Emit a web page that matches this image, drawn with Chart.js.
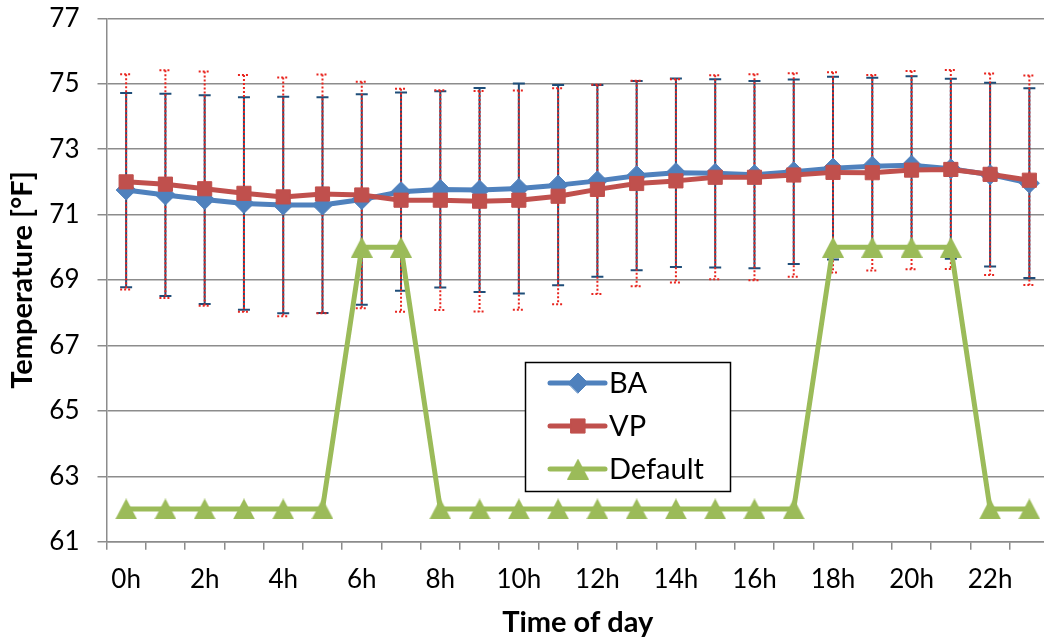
<!DOCTYPE html>
<html><head><meta charset="utf-8">
<script src="https://cdn.jsdelivr.net/npm/chart.js@4.4.0/dist/chart.umd.min.js"></script>
<style>
html,body{margin:0;padding:0;background:#fff;overflow:hidden;width:1044px;height:643px}
#wrap{position:absolute;left:0;top:0;width:1060px;height:643px}
canvas{display:block}
</style></head><body>
<div id="wrap"><canvas id="c" width="1060" height="643"></canvas></div>
<script>
// ---- data ----
const hours = ['0h','1h','2h','3h','4h','5h','6h','7h','8h','9h','10h','11h','12h','13h','14h','15h','16h','17h','18h','19h','20h','21h','22h','23h'];
const seriesNames = ['BA','VP','Default'];
const baMean = [71.75,71.60,71.46,71.34,71.29,71.29,71.46,71.70,71.77,71.75,71.80,71.90,72.03,72.19,72.28,72.26,72.22,72.31,72.42,72.48,72.51,72.40,72.22,71.96];
const baSD   = [2.97,3.09,3.19,3.25,3.31,3.30,3.22,3.03,3.00,3.12,3.21,3.06,2.93,2.89,2.88,2.88,2.86,2.82,2.79,2.70,2.72,2.75,2.81,2.90];
const vpMean = [72.00,71.93,71.79,71.65,71.54,71.63,71.60,71.44,71.44,71.41,71.44,71.56,71.77,71.95,72.03,72.14,72.14,72.21,72.29,72.28,72.36,72.38,72.23,72.05];
const vpSD   = [3.29,3.48,3.58,3.62,3.65,3.65,3.46,3.41,3.36,3.37,3.35,3.30,3.20,3.14,3.11,3.12,3.15,3.11,3.06,2.99,3.03,3.04,3.08,3.20];
const defaultSetpoint = [62,62,62,62,62,62,70,70,62,62,62,62,62,62,62,62,62,62,70,70,70,70,62,62];
const yMin = 61, yMax = 77, yStep = 2;

// ---- styles ----
const BLUE = '#4F81BD', RED = '#C0504D', GREEN = '#9BBB59';
const FONT = 'Lato';

function makeTriangle(color){
  const c = document.createElement('canvas'); c.width = 22; c.height = 21;
  const g = c.getContext('2d'); g.fillStyle = color;
  g.beginPath(); g.moveTo(11,0); g.lineTo(22,21); g.lineTo(0,21); g.closePath(); g.fill();
  return c;
}
const tri = makeTriangle(GREEN);

const errorBars = {
  id: 'errorBars',
  beforeDatasetsDraw(chart){
    const {ctx, scales:{x, y}} = chart;
    const draw = (means, sds, color, dash) => {
      ctx.save();
      ctx.strokeStyle = color; ctx.lineWidth = 2; ctx.setLineDash(dash);
      means.forEach((m, i) => {
        const px = x.getPixelForValue(i);
        const top = y.getPixelForValue(m + sds[i]);
        const bot = y.getPixelForValue(m - sds[i]);
        ctx.beginPath();
        ctx.moveTo(px, top); ctx.lineTo(px, bot);
        ctx.moveTo(px - 6, top); ctx.lineTo(px + 6, top);
        ctx.moveTo(px - 6, bot); ctx.lineTo(px + 6, bot);
        ctx.stroke();
      });
      ctx.restore();
    };
    draw(baMean, baSD, '#1F4E79', []);
    draw(vpMean, vpSD, '#E8251F', [2,2]);
  }
};

const legendBox = {
  id: 'legendBox',
  afterDatasetsDraw(chart){
    const ctx = chart.ctx;
    ctx.save();
    ctx.fillStyle = '#fff'; ctx.fillRect(525, 362, 206, 130);
    ctx.strokeStyle = '#000'; ctx.lineWidth = 1.5; ctx.strokeRect(525.5, 362.5, 205, 129);
    const rowsY = [383, 426, 469];
    const dsByName = {};
    chart.data.datasets.forEach(d => dsByName[d.label] = d);
    seriesNames.forEach((name, k) => {
      const d = dsByName[name];
      const yy = rowsY[k];
      ctx.strokeStyle = d.borderColor; ctx.lineWidth = 5; ctx.lineCap = 'round'; ctx.setLineDash([]);
      ctx.beginPath(); ctx.moveTo(550, yy); ctx.lineTo(605, yy); ctx.stroke();
      ctx.fillStyle = d.backgroundColor; ctx.strokeStyle = d.borderColor; ctx.lineWidth = 1;
      Chart.helpers.drawPoint(ctx, {pointStyle: d.pointStyle, radius: d.pointRadius, rotation: 0, borderWidth: 1}, 578, yy);
      ctx.fillStyle = '#000'; ctx.font = '29px ' + FONT; ctx.textBaseline = 'middle'; ctx.textAlign = 'left';
      ctx.fillText(name, 609, yy + 1);
    });
    ctx.restore();
  }
};

function draw(){
  Chart.defaults.font.family = FONT;
  Chart.defaults.color = '#000';
  new Chart(document.getElementById('c'), {
    type: 'line',
    data: {
      labels: hours,
      datasets: [
        {label: seriesNames[0], data: baMean, borderColor: BLUE, backgroundColor: BLUE, borderWidth: 5,
         pointStyle: 'rectRot', pointRadius: 10, pointBorderWidth: 1, order: 3, borderJoinStyle: 'round'},
        {label: seriesNames[1], data: vpMean, borderColor: RED, backgroundColor: RED, borderWidth: 5,
         pointStyle: 'rect', pointRadius: 10, pointBorderWidth: 1, order: 2, borderJoinStyle: 'round'},
        {label: seriesNames[2], data: defaultSetpoint, borderColor: GREEN, backgroundColor: GREEN, borderWidth: 5,
         pointStyle: tri, pointRadius: 11, pointBorderWidth: 0, order: 1, borderJoinStyle: 'round'}
      ]
    },
    options: {
      responsive: false, animation: false,
      layout: {padding: {top: 18.3, right: 8, left: 0, bottom: 0}},
      plugins: {legend: {display: false}, tooltip: {enabled: false}},
      scales: {
        x: {
          type: 'category', offset: true,
          grid: {offset: true, drawOnChartArea: false, drawTicks: true, tickLength: 8, color: '#8c8c8c', lineWidth: 1.5},
          border: {display: true, color: '#8c8c8c', width: 1.5},
          ticks: {autoSkip: false, maxRotation: 0, padding: 14, font: {size: 26},
            callback: function(v, i){ return i % 2 === 0 ? this.getLabelForValue(v) : ''; }},
          title: {display: true, text: 'Time of day', font: {size: 29, weight: 'bold'}, padding: {top: 0, bottom: 3}},
          afterFit: s => { s.height = 101.3; s.paddingLeft = 0; s.paddingRight = 0; }
        },
        y: {
          min: yMin, max: yMax,
          grid: {color: '#8c8c8c', lineWidth: 1.5, tickLength: 9},
          border: {display: true, color: '#8c8c8c', width: 1.5},
          ticks: {stepSize: yStep, padding: 18, font: {size: 26}},
          title: {display: true, text: 'Temperature [°F]', font: {size: 29, weight: 'bold'}, padding: {top: 5, bottom: 0}},
          afterFit: s => { s.width = 106.5; s.paddingTop = 0; s.paddingBottom = 0; }
        }
      }
    },
    plugins: [errorBars, legendBox]
  });
}
(document.fonts ? document.fonts.load('26px Lato').then(() => document.fonts.load('bold 29px Lato')) : Promise.resolve()).then(draw, draw);
</script>
</body></html>
